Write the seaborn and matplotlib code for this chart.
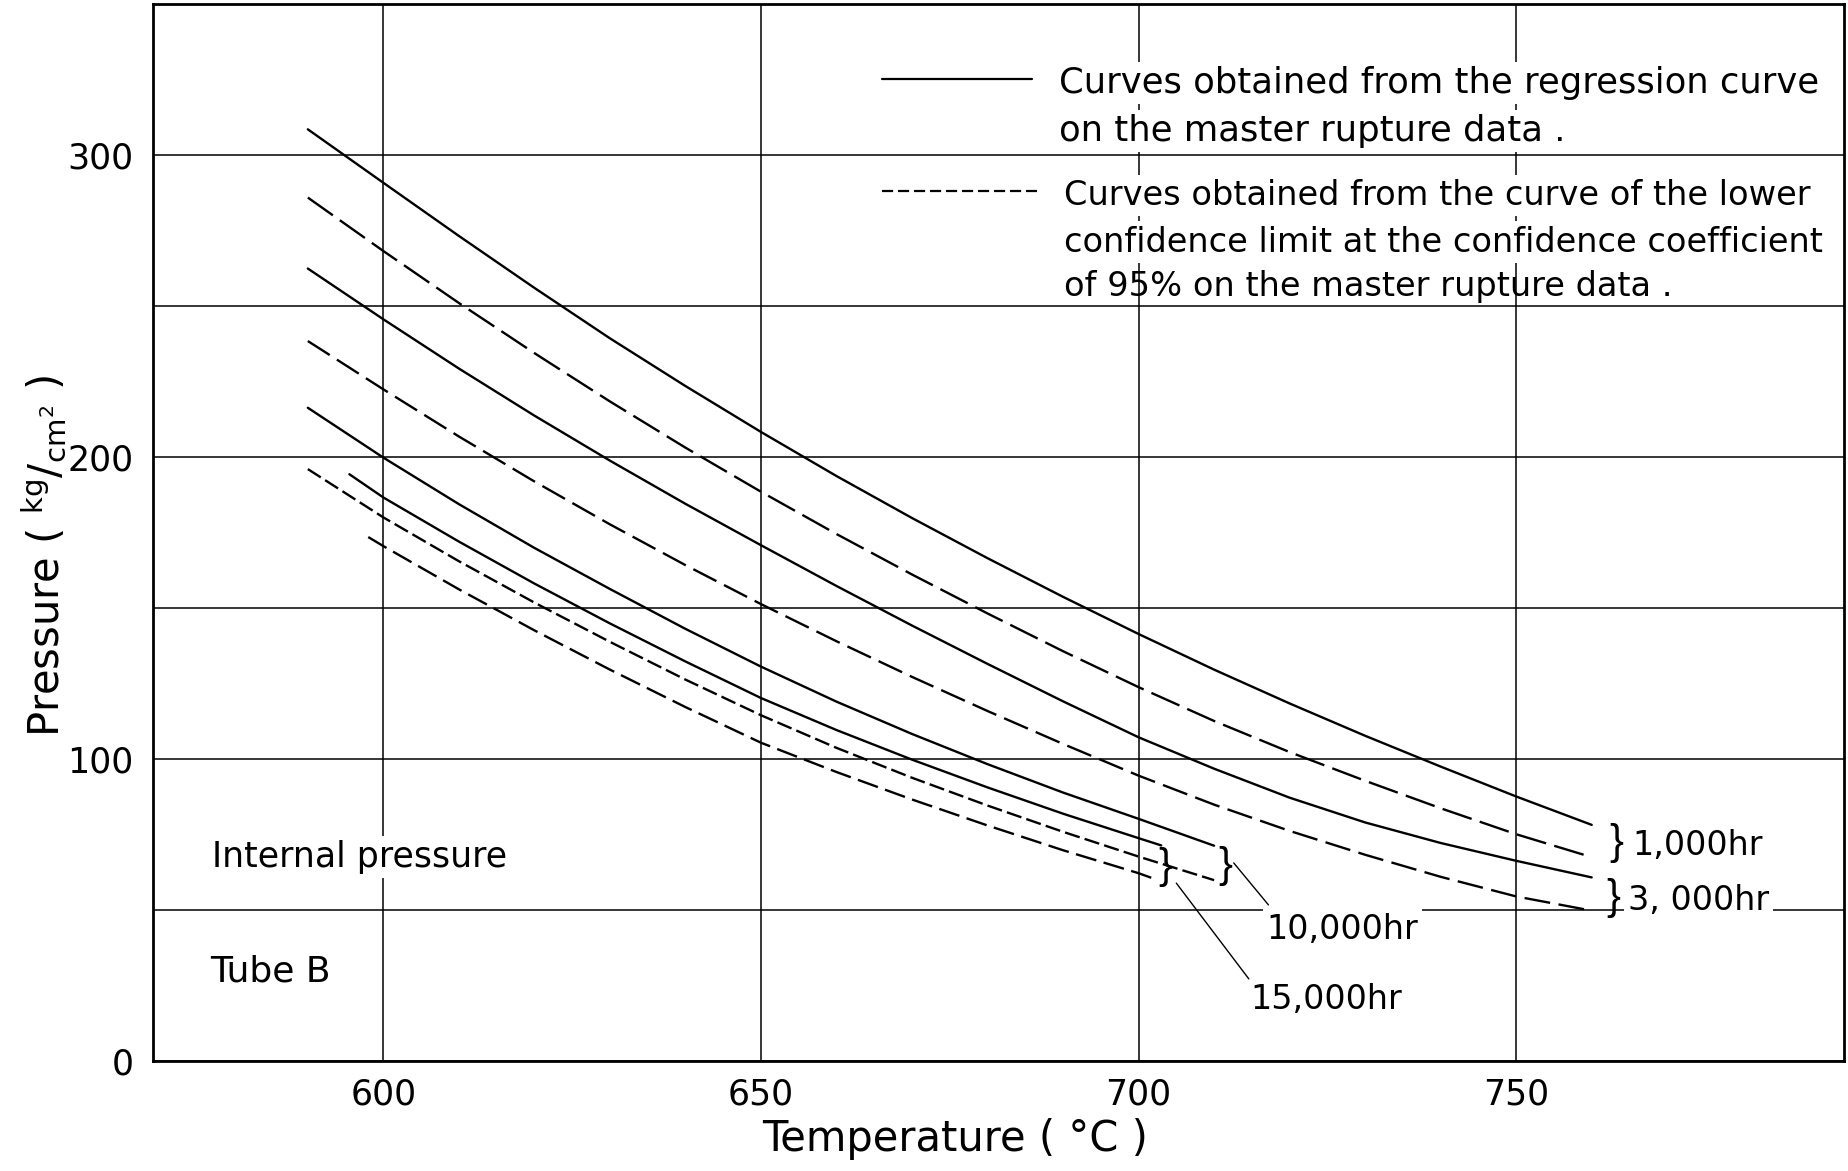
import matplotlib
matplotlib.use("Agg")
import matplotlib.pyplot as plt
import pandas as pd
import seaborn as sns

# ---------------- data ----------------
temps_long = [590, 600, 610, 620, 630, 640, 650, 660, 670, 680, 690,
              700, 710, 720, 730, 740, 750, 760]
p_1000_regression = [308.5, 290.8, 273.2, 256.0, 239.3, 223.5, 208.3, 193.7, 179.8,
                     166.5, 153.7, 141.4, 129.6, 118.4, 107.7, 97.5, 87.6, 78.2]
p_1000_lower = [285.9, 268.2, 251.0, 234.4, 218.4, 203.1, 188.5, 174.5, 161.1,
                148.2, 135.7, 123.8, 112.6, 102.3, 92.8, 83.7, 75.1, 67.5]
p_3000_regression = [262.4, 245.6, 229.3, 213.7, 198.8, 184.5, 170.8, 157.3, 144.2,
                     131.5, 119.1, 107.2, 96.8, 87.2, 79.0, 72.2, 66.3, 60.8]
p_3000_lower = [238.4, 222.4, 206.8, 191.9, 177.7, 164.2, 151.3, 139.0, 127.2,
                115.9, 105.0, 94.5, 84.9, 76.2, 68.3, 61.0, 54.5, 49.8]

temps_10000 = [590, 600, 610, 620, 630, 640, 650, 660, 670, 680, 690, 700, 710]
p_10000_regression = [216.3, 199.8, 184.4, 169.9, 156.3, 143.1, 130.6, 119.0,
                      108.3, 98.3, 88.9, 80.2, 71.3]
p_10000_lower = [196.0, 180.0, 165.5, 151.8, 138.8, 126.3, 114.5, 103.7,
                 93.8, 84.6, 75.9, 67.7, 59.9]

temps_15000_regression = [595.5, 600, 610, 620, 630, 640, 650, 660, 670, 680, 690, 700, 703]
p_15000_regression = [194.3, 186.6, 172.0, 158.1, 144.9, 132.3, 120.2, 109.6,
                      99.8, 90.6, 81.9, 73.8, 71.4]
temps_15000_lower = [598, 600, 610, 620, 630, 640, 650, 660, 670, 680, 690, 700, 702]
p_15000_lower = [173.5, 170.5, 156.2, 142.6, 129.6, 117.2, 105.4, 95.7,
                 86.6, 78.0, 69.8, 62.2, 60.4]

x_ticks = [600, 650, 700, 750]
y_ticks = [0, 100, 200, 300]
y_minor_grid = [50, 150, 250]

legend_solid_lines = ["Curves obtained from the regression curve",
                      "on the master rupture data ."]
legend_dashed_lines = ["Curves obtained from the curve of the lower",
                       "confidence limit at the confidence coefficient",
                       "of 95% on the master rupture data ."]

# ---------------- tidy table ----------------
series = [
    ("1,000 hr regression", temps_long, p_1000_regression),
    ("1,000 hr lower limit", temps_long, p_1000_lower),
    ("3,000 hr regression", temps_long, p_3000_regression),
    ("3,000 hr lower limit", temps_long, p_3000_lower),
    ("10,000 hr regression", temps_10000, p_10000_regression),
    ("10,000 hr lower limit", temps_10000, p_10000_lower),
    ("15,000 hr regression", temps_15000_regression, p_15000_regression),
    ("15,000 hr lower limit", temps_15000_lower, p_15000_lower),
]
frames = [pd.DataFrame({"temperature": t, "pressure": p, "curve": name})
          for name, t, p in series]
df = pd.concat(frames, ignore_index=True)

dash_map = {
    "1,000 hr regression": "",
    "1,000 hr lower limit": (13, 3.6),
    "3,000 hr regression": "",
    "3,000 hr lower limit": (11, 3.6),
    "10,000 hr regression": "",
    "10,000 hr lower limit": (6.5, 2.2),
    "15,000 hr regression": "",
    "15,000 hr lower limit": (9, 3.2),
}

# ---------------- figure ----------------
sns.set_theme(style="white")
plt.rcParams["font.family"] = ["DejaVu Sans"]
plt.rcParams["mathtext.fontset"] = "dejavusans"

fig = plt.figure(figsize=(18.48, 11.71), dpi=100)
ax = fig.add_axes([0.0828, 0.0939, 0.9150, 0.9027])

sns.lineplot(data=df, x="temperature", y="pressure", units="curve",
             estimator=None, style="curve", dashes=dash_map, color="black",
             linewidth=1.7, legend=False, sort=False, ax=ax)

ax.set_xlim(569.5, 793.4)
ax.set_ylim(0, 350)
ax.set_xticks(x_ticks)
ax.set_yticks(y_ticks)
ax.set_yticks(y_minor_grid, minor=True)
ax.set_axisbelow(True)
ax.grid(which="both", axis="y", color="black", linewidth=1.1)
ax.grid(which="major", axis="x", color="black", linewidth=1.1)
ax.tick_params(which="both", length=0, labelsize=25, colors="black")
ax.tick_params(axis="x", pad=12)
ax.tick_params(axis="y", pad=14)
for s in ax.spines.values():
    s.set_visible(True)
    s.set_color("black")
    s.set_linewidth(2.0)

ax.set_xlabel("Temperature ( °C )", fontsize=30, color="black")
ax.xaxis.set_label_coords(0.4743, -0.054)
ax.set_ylabel(r"Pressure ( ${}^{\mathrm{kg}}/{}_{\mathrm{cm}^{2}}$ )",
              fontsize=30, color="black")
ax.yaxis.set_label_coords(-0.050, 0.478)

# ---------------- legend (drawn as in the original drawing) ----------------
white = dict(facecolor="white", edgecolor="none", pad=3)
ax.plot([0.431, 0.5198], [0.929, 0.929], transform=ax.transAxes,
        color="black", linewidth=1.6)
ax.plot([0.431, 0.5228], [0.8231, 0.8231], transform=ax.transAxes,
        color="black", linewidth=1.6, dashes=(5, 2.2))
for txt, yy in zip(legend_solid_lines, [0.9253, 0.8798]):
    ax.text(0.5358, yy, txt, transform=ax.transAxes, ha="left", va="center",
            fontsize=25.5, color="black", bbox=white, zorder=4)
for i, (txt, yy) in enumerate(zip(legend_dashed_lines, [0.8184, 0.7748, 0.7323])):
    ax.text(0.5385, yy, txt, transform=ax.transAxes, ha="left", va="center",
            fontsize=24.2, color="black", bbox=white if i < 2 else None, zorder=4)

# ---------------- annotations ----------------
ax.text(577.35, 67.5, "Internal pressure", ha="left", va="center",
        fontsize=25, color="black", bbox=white, zorder=4)
ax.text(577.1, 29.5, "Tube B", ha="left", va="center", fontsize=26, color="black")

brace_font = ["Liberation Sans", "DejaVu Sans"]
for bx, by in [(763.2, 72.2), (762.8, 54.0), (711.5, 64.6), (703.6, 64.2)]:
    ax.text(bx, by, "}", ha="center", va="center", fontsize=30,
            family=brace_font, color="black")

ax.text(765.4, 71.5, "1,000hr", ha="left", va="center", fontsize=24,
        color="black", bbox=white, zorder=4)
ax.text(764.8, 53.3, "3, 000hr", ha="left", va="center", fontsize=24,
        color="black", bbox=white, zorder=4)
ax.text(727.0, 43.7, "10,000hr", ha="center", va="center", fontsize=24,
        color="black", bbox=white, zorder=4)
ax.text(724.8, 20.5, "15,000hr", ha="center", va="center", fontsize=24,
        color="black")

ax.annotate("", xy=(712.6, 65.6), xytext=(717.2, 51.7),
            arrowprops=dict(arrowstyle="-", color="black", lw=1.0,
                            shrinkA=0, shrinkB=0))
ax.annotate("", xy=(705.0, 58.9), xytext=(714.6, 27.2),
            arrowprops=dict(arrowstyle="-", color="black", lw=1.0,
                            shrinkA=0, shrinkB=0))

fig.savefig("out.png", dpi=100, facecolor="white")
